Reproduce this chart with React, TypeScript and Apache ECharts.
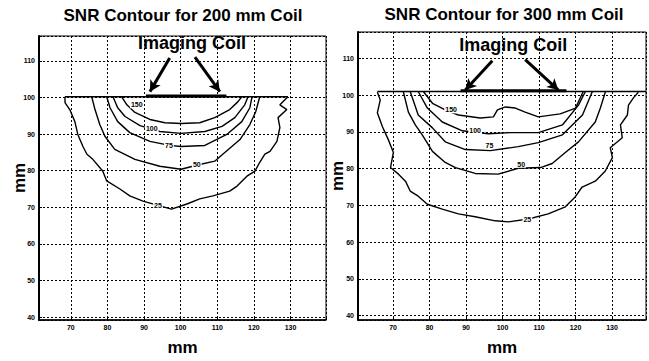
import React, { useEffect, useRef } from "react";
import * as echarts from "echarts";

// ---------- data (mm) ----------
const titles = ["SNR Contour for 200 mm Coil", "SNR Contour for 300 mm Coil"];
const coilText = "Imaging Coil";
const axisName = "mm";

// 200 mm coil
const top200: number[][] = [[68.4, 100.2], [129.3, 100.2]];
const coilBar200: number[][] = [[90.5, 100.4], [112.5, 100.4]];
const snr200_150: number[][] = [[83.9, 100.2], [85.3, 98.0], [87.5, 95.9], [91.6, 94.0], [95.7, 93.1], [100.1, 92.9], [105.2, 93.1], [109.3, 94.5], [113.4, 96.7], [115.6, 98.8], [116.7, 100.2]];
const snr200_100: number[][] = [[81.5, 100.2], [82.8, 97.2], [84.8, 94.8], [88.9, 92.3], [94.3, 90.7], [100.1, 90.2], [106.6, 90.7], [111.3, 92.1], [114.8, 94.5], [117.5, 98.0], [118.4, 100.2]];
const snr200_75: number[][] = [[79.8, 100.2], [80.7, 97.2], [82.8, 93.4], [86.1, 90.4], [91.6, 88.0], [97.0, 86.9], [100.1, 86.6], [106.6, 86.9], [112.6, 89.9], [116.7, 93.4], [118.9, 97.2], [119.5, 100.2]];
const snr200_50: number[][] = [[75.7, 100.2], [76.6, 96.7], [77.9, 92.6], [79.3, 89.4], [82.0, 85.8], [87.5, 83.1], [94.3, 81.2], [100.1, 80.4], [105.2, 81.7], [109.3, 82.6], [111.5, 84.5], [116.2, 88.5], [118.9, 92.6], [120.5, 96.1], [121.6, 100.2]];
const snr200_25: number[][] = [[68.4, 100.2], [68.4, 98.6], [69.7, 96.7], [71.1, 93.4], [71.9, 89.9], [73.3, 86.6], [74.4, 84.5], [76.0, 83.1], [78.7, 79.9], [79.8, 77.2], [83.4, 75.0], [86.1, 73.1], [89.7, 71.7], [94.3, 70.4], [97.5, 69.5], [101.7, 70.9], [105.2, 72.3], [108.8, 73.1], [113.4, 74.4], [115.4, 75.8], [118.1, 78.5], [120.3, 79.9], [121.6, 82.3], [123.0, 84.5], [124.4, 85.3], [126.3, 88.0], [127.1, 91.8], [126.6, 94.5], [129.0, 96.7], [127.1, 98.0], [129.3, 100.2]];
const labels200: [number, number, string][] = [[88.0, 98.0, "150"], [92.1, 91.5, "100"], [96.8, 87.0, "75"], [104.4, 81.8, "50"], [93.8, 70.6, "25"]];
const arrows200: number[][][] = [[[97.0, 110.8], [91.6, 101.6]], [[103.9, 111.0], [110.7, 101.6]]];
const coilLabel200: number[] = [103.1, 114.8];

// 300 mm coil
const top300: number[][] = [[65.7, 101.0], [139.3, 101.0]];
const coilBar300: number[][] = [[88.5, 101.2], [117.5, 101.2]];
const snr300_150: number[][] = [[78.3, 101.0], [80.8, 97.8], [84.3, 96.0], [87.9, 94.6], [93.9, 93.8], [97.5, 94.1], [98.6, 96.0], [100.8, 96.8], [103.5, 96.5], [106.2, 95.4], [109.8, 94.1], [115.8, 94.9], [120.0, 96.5], [122.1, 101.0]];
const snr300_100: number[][] = [[76.9, 101.0], [79.4, 96.5], [83.5, 92.7], [89.0, 90.3], [96.1, 89.5], [102.1, 89.8], [109.8, 89.8], [116.4, 91.9], [120.8, 97.3], [122.7, 101.0]];
const snr300_75: number[][] = [[74.7, 101.0], [76.9, 94.6], [80.8, 91.1], [84.3, 87.3], [89.8, 85.2], [96.7, 84.9], [104.3, 86.0], [109.8, 87.1], [116.4, 89.2], [121.9, 94.6], [124.6, 101.0]];
const snr300_50: number[][] = [[72.8, 101.0], [74.2, 95.4], [76.1, 91.9], [78.0, 89.2], [80.8, 84.7], [84.3, 81.7], [87.1, 80.3], [92.5, 78.7], [98.8, 78.5], [104.3, 80.1], [110.4, 80.3], [113.6, 81.4], [117.2, 84.4], [120.8, 87.3], [125.4, 92.7], [126.8, 96.5], [128.2, 101.0]];
const snr300_25: number[][] = [[65.7, 100.8], [66.5, 98.7], [65.7, 95.2], [67.1, 91.4], [68.7, 87.9], [70.1, 84.4], [69.3, 80.3], [71.5, 78.5], [73.4, 76.6], [74.7, 73.9], [76.9, 72.5], [79.4, 70.3], [83.5, 69.0], [87.9, 67.7], [92.5, 66.9], [98.0, 65.8], [101.6, 65.5], [107.1, 66.3], [112.5, 67.7], [117.2, 69.6], [119.9, 72.3], [121.8, 75.0], [125.4, 76.6], [128.1, 79.3], [130.1, 83.0], [129.5, 85.7], [132.8, 88.4], [132.3, 91.9], [134.2, 94.6], [134.5, 97.3], [135.8, 99.2], [137.2, 100.8]];
const labels300: [number, number, string][] = [[85.9, 96.0, "150"], [92.5, 90.3, "100"], [96.4, 86.3, "75"], [105.1, 81.2, "50"], [106.8, 66.2, "25"]];
const arrows300: number[][][] = [[[97.2, 109.4], [89.8, 101.4]], [[106.2, 109.7], [115.3, 101.4]]];
const coilLabel300: number[] = [102.9, 113.6];

// axis extents
const xRange200 = [61.3, 139.7];
const yRange200 = [39.2, 116.8];
const xRange300 = [60.4, 139.3];
const yRange300 = [38.8, 117.2];

const FONT = "'Liberation Sans', Arial, sans-serif";

function buildAxes(gi: number, xr: number[], yr: number[], yNameGap: number) {
  const fmt = (v: number) => (Math.abs(v % 10) < 1e-6 ? String(v) : "");
  const split = { show: true, lineStyle: { color: "#000", width: 1, type: [2, 2] as any } };
  const tick = { show: true, inside: true, length: 3, lineStyle: { color: "#000" } };
  const x = {
    type: "value", gridIndex: gi, min: xr[0], max: xr[1], splitNumber: 8, minInterval: 10, maxInterval: 10,
    axisLine: { show: true, lineStyle: { color: "#000", width: 1.5 } },
    axisTick: tick, splitLine: split,
    axisLabel: { formatter: fmt, fontSize: 7, fontWeight: "bold", color: "#000", margin: 4, fontFamily: FONT },
    name: axisName, nameLocation: "middle", nameGap: 19, nameMoveOverlap: false,
    nameTextStyle: { fontSize: 17, fontWeight: "bold", color: "#000", fontFamily: FONT },
  };
  const y = {
    type: "value", gridIndex: gi, min: yr[0], max: yr[1], splitNumber: 8, minInterval: 10, maxInterval: 10,
    axisLine: { show: true, lineStyle: { color: "#000", width: 2 } },
    axisTick: tick, splitLine: split,
    axisLabel: { formatter: fmt, fontSize: 7, fontWeight: "bold", color: "#000", margin: 4, fontFamily: FONT },
    name: axisName, nameLocation: "middle", nameGap: yNameGap, nameRotate: 90, nameMoveOverlap: false,
    nameTextStyle: { fontSize: 17, fontWeight: "bold", color: "#000", fontFamily: FONT },
  };
  return { x, y };
}

function line(data: number[][], gi: number, width = 1.4) {
  return {
    type: "line", xAxisIndex: gi, yAxisIndex: gi, data, symbol: "none", showSymbol: false,
    lineStyle: { color: "#000", width }, silent: true, z: 3,
  };
}

function textLabel(size: number, bg: boolean) {
  return {
    show: true, position: [0, 0], align: "center", verticalAlign: "middle",
    fontSize: size, fontWeight: "bold", color: "#000", fontFamily: FONT,
    textBorderWidth: 0, opacity: 1,
    backgroundColor: bg ? "#fff" : "transparent", padding: bg ? [0, 1] : 0,
  };
}

function labelSeries(items: [number, number, string][], gi: number) {
  return {
    type: "scatter", xAxisIndex: gi, yAxisIndex: gi, symbolSize: 0,
    itemStyle: { color: "#000" }, silent: true, z: 6,
    data: items.map(([x, y, t]) => ({ value: [x, y], label: { ...textLabel(7, true), formatter: t } })),
    label: textLabel(7, true),
  };
}

function coilSeries(pos: number[], arrows: number[][][], gi: number) {
  return {
    type: "scatter", xAxisIndex: gi, yAxisIndex: gi, symbolSize: 0,
    itemStyle: { color: "#000" }, silent: true, z: 7,
    data: [{ value: pos, label: { ...textLabel(18, false), formatter: coilText } }],
    label: textLabel(18, false),
    markLine: {
      silent: true, symbol: ["none", "arrow"], symbolSize: [9, 11],
      label: { show: false },
      lineStyle: { color: "#000", width: 3, type: "solid" },
      data: arrows.map(([a, b]) => [{ coord: a }, { coord: b }]),
    },
  };
}

export default function App() {
  const ref = useRef<HTMLDivElement>(null);
  useEffect(() => {
    if (!ref.current) return;
    const chart = echarts.init(ref.current, null, { renderer: "svg" });
    const a0 = buildAxes(0, xRange200, yRange200, 11);
    const a1 = buildAxes(1, xRange300, yRange300, 12);
    chart.setOption({
      animation: false,
      backgroundColor: "#fff",
      textStyle: { fontFamily: FONT },
      title: [
        { text: titles[0], left: 183, top: 7, textAlign: "center", padding: 0, textStyle: { fontSize: 17, fontWeight: "bold", color: "#000", fontFamily: FONT } },
        { text: titles[1], left: 504, top: 6, textAlign: "center", padding: 0, textStyle: { fontSize: 17, fontWeight: "bold", color: "#000", fontFamily: FONT } },
      ],
      grid: [
        { left: 39, top: 36, width: 287, height: 287, show: true, borderColor: "#000", borderWidth: 1, backgroundColor: "transparent" },
        { left: 358, top: 32, width: 288, height: 291, show: true, borderColor: "#000", borderWidth: 1, backgroundColor: "transparent" },
      ],
      xAxis: [a0.x, a1.x],
      yAxis: [a0.y, a1.y],
      series: [
        line(top200, 0, 1.6), line(coilBar200, 0, 3),
        line(snr200_150, 0), line(snr200_100, 0), line(snr200_75, 0), line(snr200_50, 0), line(snr200_25, 0),
        labelSeries(labels200, 0), coilSeries(coilLabel200, arrows200, 0),
        line(top300, 1, 1.6), line(coilBar300, 1, 3),
        line(snr300_150, 1), line(snr300_100, 1), line(snr300_75, 1), line(snr300_50, 1), line(snr300_25, 1),
        labelSeries(labels300, 1), coilSeries(coilLabel300, arrows300, 1),
      ],
    });
    return () => chart.dispose();
  }, []);
  return (
    <div
      ref={ref}
      style={{ position: "absolute", left: 0, top: 0, width: 649, height: 361, background: "#fff" }}
    />
  );
}
